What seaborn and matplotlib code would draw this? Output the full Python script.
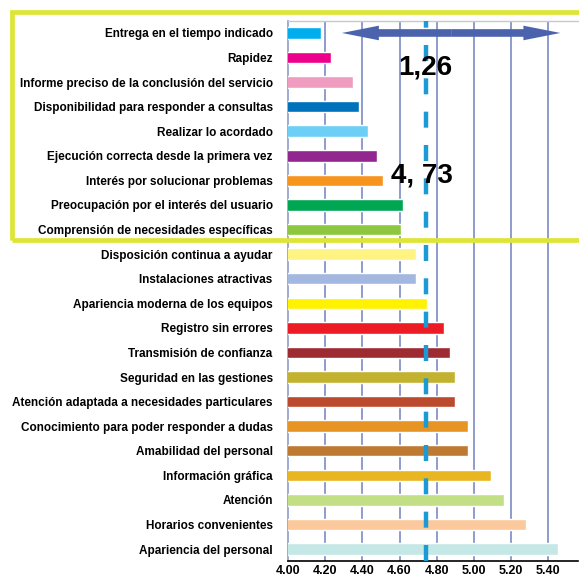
"""Barras horizontales de calidad de servicio con media y rango"""

import matplotlib
matplotlib.use("Agg")
import matplotlib.pyplot as plt
import matplotlib.patches as mpatches
import pandas as pd
import seaborn as sns

# ── datos ──
categorias = [
    "Entrega en el tiempo indicado",
    "Rapidez",
    "Informe preciso de la conclusión del servicio",
    "Disponibilidad para responder a consultas",
    "Realizar lo acordado",
    "Ejecución correcta desde la primera vez",
    "Interés por solucionar problemas",
    "Preocupación por el interés del usuario",
    "Comprensión de necesidades específicas",
    "Disposición continua a ayudar",
    "Instalaciones atractivas",
    "Apariencia moderna de los equipos",
    "Registro sin errores",
    "Transmisión de confianza",
    "Seguridad en las gestiones",
    "Atención adaptada a necesidades particulares",
    "Conocimiento para poder responder a dudas",
    "Amabilidad del personal",
    "Información gráfica",
    "Atención",
    "Horarios convenientes",
    "Apariencia del personal",
]
valores = [4.18, 4.23, 4.35, 4.38, 4.43, 4.48, 4.51, 4.62, 4.61, 4.69, 4.69,
           4.75, 4.84, 4.87, 4.90, 4.90, 4.97, 4.97, 5.09, 5.16, 5.28, 5.45]
colores = ["#00aeef", "#ec008c", "#f09bc0", "#0072bc", "#6dcff6", "#92278f",
           "#f7941d", "#00a651", "#8dc63f", "#fff383", "#a3b7e0", "#fff200",
           "#ed1c24", "#9e2a32", "#c2b22f", "#bb4a2f", "#e69524", "#bf7a32",
           "#e8b620", "#c2df86", "#fbc99b", "#c5e8e6"]
media = 4.74
media_txt = "4, 73"
rango_txt = "1,26"
rango = (4.29, 5.465)
xticks = [4.00, 4.20, 4.40, 4.60, 4.80, 5.00, 5.20, 5.40]

sns.set_style("white")
plt.rcParams["font.family"] = ["Liberation Sans", "DejaVu Sans"]
plt.rcParams["text.color"] = "black"

df = pd.DataFrame({"cat": categorias, "val": valores})

fig = plt.figure(figsize=(5.79, 5.81), dpi=100)
ax = fig.add_axes([0.4974, 0.0339, 0.5009, 0.9305])

sns.barplot(data=df, y="cat", x="val", hue="cat", palette=colores,
            order=categorias, hue_order=categorias, legend=False,
            width=0.47, saturation=1, ax=ax, zorder=3)

ax.set_xlim(4.0, 5.56)
ax.set_ylim(len(categorias) - 0.5, -0.5)

# rejilla vertical
for x in xticks[1:]:
    ax.axvline(x, color="#8e9ccc", lw=1.4, zorder=1)

# media (línea discontinua)
ax.axvline(media, color="#1b9ad6", lw=3.2, dashes=(3.6, 3.9), zorder=4)

# flecha doble del rango (dos flechas desde el centro)
centro = sum(rango) / 2
for extremo in rango:
    flecha = mpatches.FancyArrowPatch(
        (centro, 0), (extremo, 0),
        arrowstyle="simple,head_length=2.66,head_width=1.05,tail_width=0.55",
        mutation_scale=10, color="#4b63ad", lw=0, shrinkA=0, shrinkB=0,
        zorder=5)
    ax.add_patch(flecha)

ax.text(4.74, 1.42, rango_txt, fontsize=20, fontweight="bold",
        ha="center", va="center", color="black", zorder=6)
ax.text(4.72, 5.8, media_txt, fontsize=20, fontweight="bold",
        ha="center", va="center", color="black", zorder=6)

# ejes
ax.set_xticks(xticks)
ax.set_xticklabels([f"{x:.2f}" for x in xticks], fontsize=9, fontweight="bold",
                   color="black")
ax.set_yticks(range(len(categorias)))
ax.set_yticklabels(categorias, fontsize=8.5, fontweight="bold", color="black")
ax.set_yticks([i + 0.5 for i in range(-1, len(categorias))], minor=True)
ax.tick_params(axis="y", which="major", length=0, pad=11)
ax.tick_params(axis="y", which="minor", length=4, width=1, color="#5c6ea8")
ax.tick_params(axis="x", length=0, pad=3)
ax.set_xlabel("")
ax.set_ylabel("")
ax.spines["right"].set_visible(False)
ax.spines["top"].set_color("#c8c8c8")
ax.spines["top"].set_linewidth(1)
ax.spines["left"].set_color("#8e9ccc")
ax.spines["left"].set_linewidth(1.2)
ax.spines["bottom"].set_color("black")
ax.spines["bottom"].set_linewidth(1.2)

# marco amarillo
marco = mpatches.Rectangle((11.7 / 579, 1 - 240 / 581), 1.0, (240 - 11.7) / 581,
                           transform=fig.transFigure, fill=False,
                           edgecolor="#dde535", lw=3.4, clip_on=False)
fig.patches.append(marco)

plt.savefig("out.png", dpi=100)
plt.close()
